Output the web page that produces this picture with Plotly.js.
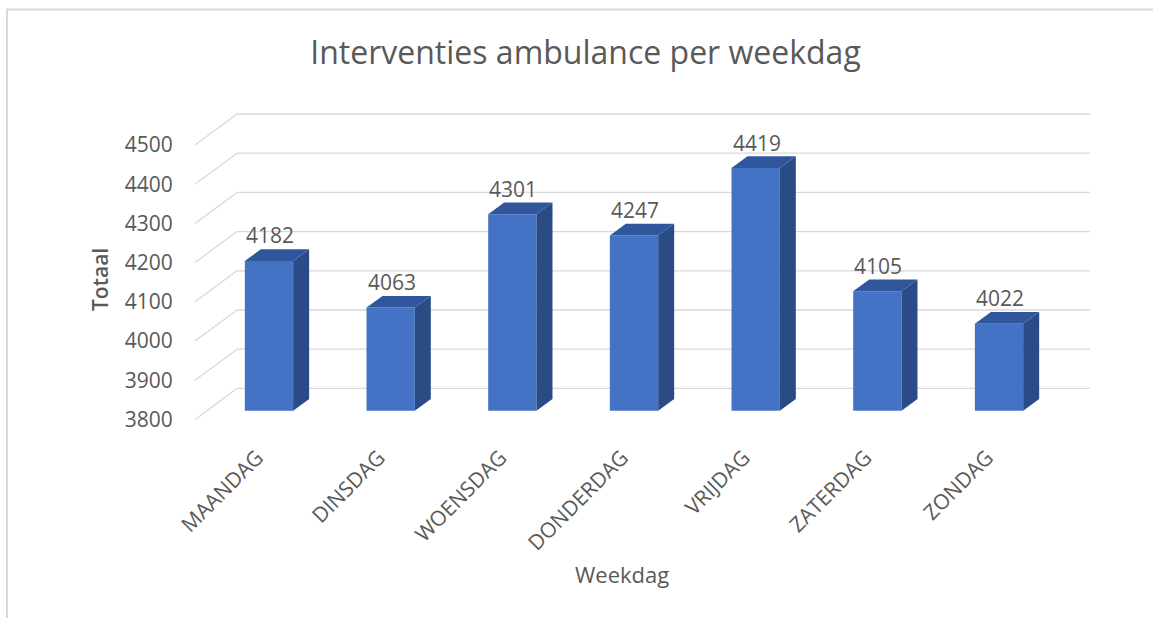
<!DOCTYPE html>
<html>
<head>
<meta charset="utf-8">
<script src="https://cdn.plot.ly/plotly-3.0.1.min.js"></script>
<style>
html,body{margin:0;padding:0;background:#fff;}
#chart{width:1153px;height:618px;}
</style>
</head>
<body>
<div id="chart"></div>
<script>
// ---- data ----
const categories = ['MAANDAG', 'DINSDAG', 'WOENSDAG', 'DONDERDAG', 'VRIJDAG', 'ZATERDAG', 'ZONDAG'];
const totals = [4182, 4063, 4301, 4247, 4419, 4105, 4022];
const yTickValues = [3800, 3900, 4000, 4100, 4200, 4300, 4400, 4500];
const yBase = 3800;
const chartTitle = 'Interventies ambulance per weekdag';
const xTitle = 'Weekdag';
const yTitle = 'Totaal';

// ---- layout geometry (pixels) ----
const W = 1153, H = 618;
const plotL = 195, plotR = 1090, plotT = 100, plotB = 430;
const pxPerUnit = 0.392;       // vertical pixels per value unit
const pxPerCat = 121.67;       // horizontal pixels per category
const firstBarCenter = 269;    // pixel x of first bar front face center
const barFrontBase = 410.7;    // pixel y of base in the bar front plane
const labelPlaneBase = 419.4;  // pixel y of base in the axis (front) plane
const labelPlaneShiftX = 11.8; // bars front plane vs axis plane
const wallDX = 42, wallDY = 31; // back wall offset from axis plane
const barDX = 16, barDY = 11.7; // bar depth
const barWpx = 48.3;

const plotW = plotR - plotL, plotH = plotB - plotT;
const xr0 = -(firstBarCenter - plotL) / pxPerCat;
const xr1 = xr0 + plotW / pxPerCat;
const yRange = [yBase - (plotB - barFrontBase) / pxPerUnit, yBase + (barFrontBase - plotT) / pxPerUnit];
const y2Range = [yBase - (plotB - labelPlaneBase) / pxPerUnit, yBase + (labelPlaneBase - plotT) / pxPerUnit];
const x2Range = [xr0 + labelPlaneShiftX / pxPerCat, xr1 + labelPlaneShiftX / pxPerCat];

const px2paperX = p => (p - plotL) / plotW;
const px2paperY = p => (plotB - p) / plotH;

const idx = categories.map((c, i) => i);
const bw = barWpx / pxPerCat;
const dx = barDX / pxPerCat;
const dy = barDY / pxPerUnit;

const textColor = '#595959';
const gridColor = '#d9d9d9';
const font = 'Open Sans, Noto Sans, sans-serif';

const shapes = [];
// chart border
shapes.push({type: 'rect', xref: 'paper', yref: 'paper',
  x0: px2paperX(7), x1: px2paperX(W + 20), y0: px2paperY(9.5), y1: px2paperY(H + 20),
  line: {color: gridColor, width: 2}, fillcolor: 'rgba(0,0,0,0)', layer: 'below'});
// gridlines (side wall diagonal + back wall)
const wallUnits = wallDY / pxPerUnit;
yTickValues.forEach(v => {
  shapes.push({type: 'line', xref: 'paper', yref: 'y2', x0: 0, x1: px2paperX(plotL + wallDX),
    y0: v, y1: v + wallUnits, line: {color: gridColor, width: 1.3}, layer: 'below'});
  shapes.push({type: 'line', xref: 'paper', yref: 'y2', x0: px2paperX(plotL + wallDX), x1: 1,
    y0: v + wallUnits, y1: v + wallUnits, line: {color: gridColor, width: 1.3}, layer: 'below'});
});
// 3D bar faces
totals.forEach((v, i) => {
  const l = idx[i] - bw / 2, r = idx[i] + bw / 2;
  // side face
  shapes.push({type: 'path', xref: 'x', yref: 'y', layer: 'above',
    path: `M${r},${yBase} L${r},${v} L${r + dx},${v + dy} L${r + dx},${yBase + dy} Z`,
    fillcolor: '#2a4b85', line: {width: 0}});
  // top face
  shapes.push({type: 'path', xref: 'x', yref: 'y', layer: 'above',
    path: `M${l},${v} L${r},${v} L${r + dx},${v + dy} L${l + dx},${v + dy} Z`,
    fillcolor: '#30569c', line: {width: 0}});
});

const annotations = totals.map((v, i) => ({
  x: idx[i], y: v, xref: 'x', yref: 'y', text: String(v), showarrow: false,
  xanchor: 'center', yanchor: 'middle', xshift: 1, yshift: 25.5,
  font: {family: font, size: 21, color: textColor}
}));
annotations.push({xref: 'paper', yref: 'paper', x: px2paperX(100), y: px2paperY(280),
  text: yTitle, textangle: -90, showarrow: false, xanchor: 'center', yanchor: 'middle',
  font: {family: font, size: 21, color: textColor, weight: 600}});
annotations.push({xref: 'paper', yref: 'paper', x: px2paperX(622), y: px2paperY(574),
  text: xTitle, showarrow: false, xanchor: 'center', yanchor: 'middle',
  font: {family: font, size: 22, color: textColor}});

const traces = [
  {type: 'bar', x: idx, y: totals.map(v => v - yBase), base: yBase, width: bw,
   marker: {color: '#4472c4', line: {width: 0}}, hoverinfo: 'skip', xaxis: 'x', yaxis: 'y'},
  {type: 'scatter', x: idx, y: totals, mode: 'markers', marker: {opacity: 0},
   hoverinfo: 'skip', xaxis: 'x2', yaxis: 'y2', showlegend: false}
];

const layout = {
  width: W, height: H,
  margin: {l: plotL, r: W - plotR, t: plotT, b: H - plotB, pad: 0},
  paper_bgcolor: '#ffffff', plot_bgcolor: 'rgba(0,0,0,0)',
  showlegend: false,
  title: {text: chartTitle, xref: 'container', yref: 'container', x: 585.5 / W, xanchor: 'center',
    y: 1 - 53 / H, yanchor: 'middle', font: {family: font, size: 32, color: textColor}},
  xaxis: {range: [xr0, xr1], showgrid: false, zeroline: false, showline: false, showticklabels: false, ticks: '', fixedrange: true},
  yaxis: {range: yRange, showgrid: false, zeroline: false, showline: false, showticklabels: false, ticks: '', fixedrange: true},
  xaxis2: {overlaying: 'x', anchor: 'y2', side: 'bottom', range: x2Range, tickmode: 'array', tickvals: idx, ticktext: categories,
    tickangle: -45, ticks: 'outside', ticklen: 6, tickcolor: 'rgba(0,0,0,0)', showgrid: false, zeroline: false, showline: false,
    tickfont: {family: font, size: 21, color: textColor}, fixedrange: true},
  yaxis2: {overlaying: 'y', anchor: 'x2', side: 'left', range: y2Range, tickmode: 'array', tickvals: yTickValues,
    ticks: 'outside', ticklen: 17, tickcolor: 'rgba(0,0,0,0)', showgrid: false, zeroline: false, showline: false,
    tickfont: {family: font, size: 21, color: textColor}, fixedrange: true},
  shapes: shapes,
  annotations: annotations
};

Plotly.newPlot('chart', traces, layout, {displayModeBar: false, staticPlot: true});
</script>
</body>
</html>
